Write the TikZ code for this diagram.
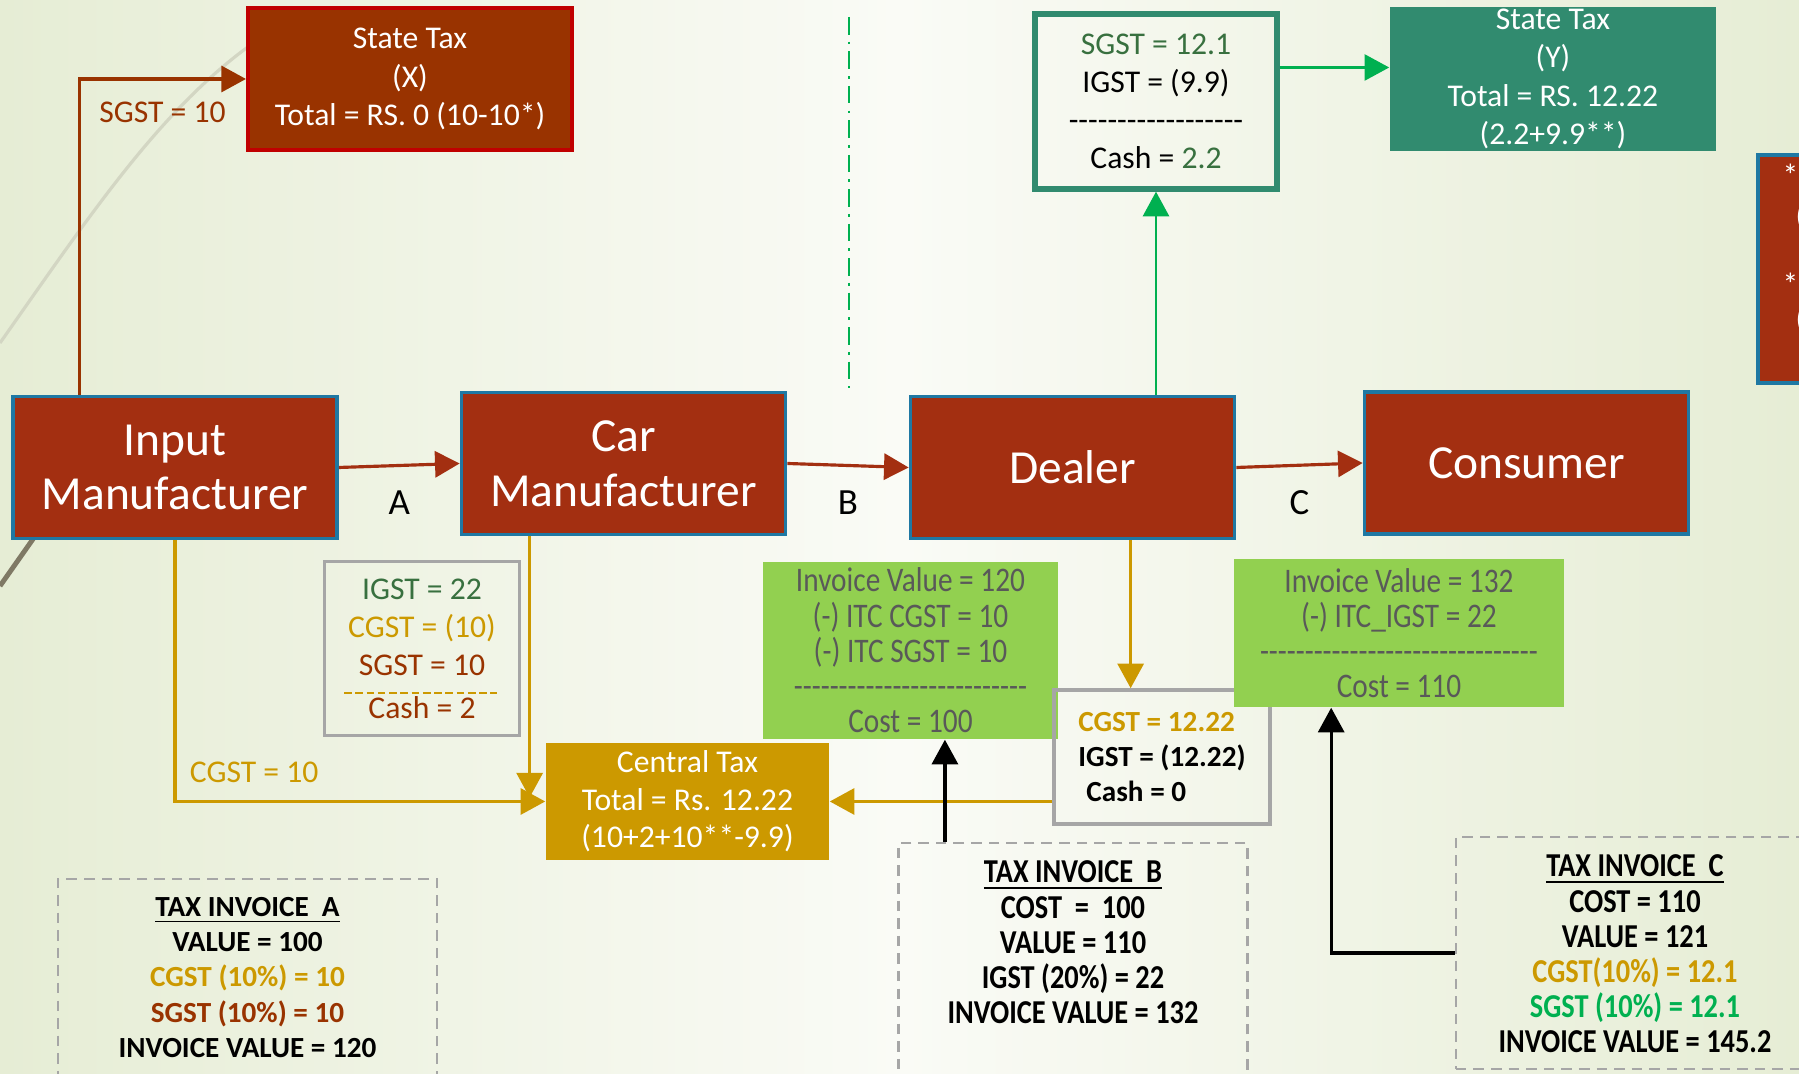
\documentclass[tikz,border=0pt]{standalone}
\usepackage{fontspec}
\setmainfont{Carlito}
\newfontfamily\narrowfont{Carlito}[FakeStretch=0.85]
\usepackage{tikz}
\usetikzlibrary{arrows.meta,positioning,calc}
\definecolor{gstred}{HTML}{A32F11}
\definecolor{gstbrown}{HTML}{993300}
\definecolor{gstcrimson}{HTML}{C00000}
\definecolor{gstblue}{HTML}{1F78A3}
\definecolor{gstteal}{HTML}{318B6F}
\definecolor{gstgold}{HTML}{CC9900}
\definecolor{gstgreen}{HTML}{00B050}
\definecolor{gstdkgreen}{HTML}{38703F}
\definecolor{gstlime}{HTML}{92D050}
\definecolor{gsttext}{HTML}{595959}
\definecolor{gstgrey}{HTML}{A6A6A6}
\definecolor{bgside}{HTML}{E6EDD5}
\definecolor{bgmid}{HTML}{FAFBF6}
\definecolor{bgarcl}{HTML}{D3D6C3}
\definecolor{bgarcd}{HTML}{7F7965}
\newcommand{\fsz}[2]{\fontsize{#1}{#2}\selectfont}
\newcommand{\hyph}[1]{\foreach \k in {1,...,#1}{-\kern0pt}}
\tikzset{
  party/.style    = {draw=gstblue, fill=gstred, line width=1pt, text=white,
                     align=center, inner sep=0pt, minimum width=3.24cm,
                     minimum height=1.42cm, font=\fsz{13.5}{15.6}},
  taxbox/.style   = {align=center, inner sep=0pt, text=white,
                     font=\fsz{9}{10.9}},
  sheet/.style    = {draw=gstgrey, line width=1pt, align=center, inner sep=0pt,
                     font=\fsz{9}{10.8}},
  itcbox/.style   = {fill=gstlime, text=gsttext, align=center, inner sep=0pt,
                     font=\narrowfont\fsz{9.8}{10}},
  invoice/.style  = {draw=gstgrey, dashed, dash pattern=on 3pt off 2pt,
                     line width=0.7pt, inner sep=0pt},
  invtxt/.style   = {align=center, inner sep=0pt, font=\bfseries\fsz{8.3}{10}},
  %
  flow/.style     = {-{Triangle[length=7pt,width=7.4pt]}, line width=0.9pt},
  redflow/.style  = {flow, draw=gstred},
  sgstflow/.style = {flow, draw=gstbrown},
  goldflow/.style = {flow, draw=gstgold},
  grnflow/.style  = {flow, draw=gstgreen, line width=0.7pt},
  blkflow/.style  = {flow, draw=black},
  %
  lbl/.style      = {inner sep=0pt, font=\fsz{9}{10.8}},
  abc/.style      = {inner sep=0pt, font=\fsz{10.5}{12}},
}
\begin{document}
\begin{tikzpicture}[x=0.01cm, y=-0.01cm]

  \useasboundingbox (0,0) rectangle (1799,1074);
  \clip (0,0) rectangle (1799,1074);

  % ---------- slide background ------------------------------------------
  \fill[left color=bgside, right color=bgside, middle color=bgmid]
    (0,0) rectangle (1799,1074);
  \draw[bgarcl, line width=0.9pt] (0,343) .. controls (90,215) and (160,110) .. (252,44);
  \draw[bgarcd, line width=1.4pt] (0,586) -- (45,522);
  \draw[gstgreen, line width=0.7pt, dash pattern=on 5pt off 2pt on 0.8pt off 2pt]
    (849,17) -- (849,388);

  % ---------- supply chain (row y = 465) --------------------------------
  \node[party] (inp) at (175,467.5)  {Input\\Manufacturer};
  \node[party] (car) at (623.5,463.5) {Car\\Manufacturer};
  \node[party] (dlr) at (1072.5,467.5) {Dealer};
  \node[party] (con) at (1526.5,463)  {Consumer};

  % ---------- state and central tax -------------------------------------
  \node[taxbox, draw=gstcrimson, fill=gstbrown, line width=1.1pt,
        minimum width=3.24cm, minimum height=1.42cm] (stx) at (410,79)
    {State Tax\\(X)\\Total = RS. 0 (10-10*)};
  \node[taxbox, fill=gstteal, minimum width=3.26cm, minimum height=1.44cm]
    (sty) at (1553,79)
    {State Tax\\(Y)\\Total = RS. 12.22\\(2.2+9.9**)};
  \node[taxbox, fill=gstgold, minimum width=2.83cm, minimum height=1.17cm,
        font=\fsz{9}{10.7}] (ctax) at (687.5,801.5)
    {Central Tax\\Total = Rs. 12.22\\(10+2+10**-9.9)};

  % ---------- set-off sheets --------------------------------------------
  \node[sheet, draw=gstteal, line width=1.5pt, minimum width=2.42cm,
        minimum height=1.75cm] (sgst) at (1156,101.5)
    {{\color{gstdkgreen}SGST = 12.1}\\IGST = (9.9)\\\hyph{18}\\
     Cash = {\color{gstdkgreen}2.2}};
  \node[sheet, minimum width=1.95cm, minimum height=1.74cm] (igst) at (422,648.5)
    {{\color{gstdkgreen}IGST = 22}\\{\color{gstgold}CGST = (10)}\\
     {\color{gstbrown}SGST = 10}\\[1.4pt]{\color{gstbrown}Cash = 2}};
  \draw[gstgold, line width=0.6pt, dash pattern=on 2.2pt off 1pt]
    ($(igst.center)+(-78,44.5)$) -- ($(igst.center)+(75,44.5)$);

  \node[itcbox, minimum width=2.94cm, minimum height=1.77cm] (itcb) at (910.5,650.5)
    {Invoice Value = 120\\(-) ITC CGST = 10\\(-) ITC SGST = 10\\\hyph{26}\\
     Cost = 100};
  \node[sheet, align=left, minimum width=2.16cm, minimum height=1.34cm,
        font=\bfseries\fsz{8.3}{10}] (cgst) at (1162,757)
    {{\color{gstgold}CGST = 12.22}\\IGST = (12.22)\\\hspace*{2.3pt}Cash = 0};
  \node[itcbox, minimum width=3.30cm, minimum height=1.48cm] (itcc) at (1399,633)
    {Invoice Value = 132\\(-) ITC\_IGST = 22\\\hyph{31}\\Cost = 110};

  % ---------- tax invoices ----------------------------------------------
  \node[invoice, minimum width=3.79cm, minimum height=2.10cm] (inva) at (247.5,984) {};
  \node[invoice, minimum width=3.485cm, minimum height=2.47cm] (invb) at (1073,966.5) {};
  \node[invoice, minimum width=3.58cm, minimum height=2.32cm] (invc) at (1635,953) {};

  \node[invtxt, below=5.4pt of inva.north] (txa)
    {\underline{TAX INVOICE\ \ A}\\VALUE = 100\\
     {\color{gstgold}CGST (10\%) = 10}\\{\color{gstbrown}SGST (10\%) = 10}\\
     INVOICE VALUE = 120};
  \node[invtxt, font=\narrowfont\bfseries\fsz{9.5}{10}, below=5.3pt of invb.north] (txb)
    {\underline{TAX INVOICE\ \ B}\\COST\ \ =\ \ 100\\VALUE = 110\\
     IGST (20\%) = 22\\INVOICE VALUE = 132};
  \node[invtxt, font=\narrowfont\bfseries\fsz{9.5}{10}, below=5.3pt of invc.north] (txc)
    {\underline{TAX INVOICE\ \ C}\\COST = 110\\VALUE = 121\\
     {\color{gstgold}CGST(10\%) = 12.1}\\{\color{gstgreen}SGST (10\%) = 12.1}\\
     INVOICE VALUE = 145.2};

  % ---------- footnote box, cut by the slide edge -----------------------
  \node[party, anchor=north west, minimum width=0.8cm, minimum height=2.28cm]
    (fnote) at (1756,153) {};
  \node[lbl, text=white, anchor=west] (fna) at (1782,175) {*};
  \node[lbl, text=white, anchor=west] (fnb) at (1795,217) {(};
  \node[lbl, text=white, anchor=west] (fnc) at (1782,284) {**};
  \node[lbl, text=white, anchor=west] (fnd) at (1795,320) {(};

  % ---------- connectors: sales A, B, C ---------------------------------
  \draw[redflow] (inp.east) -- node[abc, below=6.8pt] {A} (car.west);
  \draw[redflow] (car.east) -- node[abc, below=6.8pt] {B} (dlr.west);
  \draw[redflow] (dlr.east) -- node[abc, below=6.8pt] {C} (con.west);

  % ---------- connectors: tax paid --------------------------------------
  \coordinate (inpup) at ($(inp.north west)+(68,0)$);
  \draw[sgstflow] (inpup) |- node[lbl, text=gstbrown, below=6pt, pos=0.75]
      {SGST = 10} (stx.west);
  \draw[goldflow] (inp.south) |- node[lbl, text=gstgold, above=4.8pt, pos=0.607]
      {CGST = 10} (ctax.west);
  \coordinate (cardown) at ($(car.south west)+(70,0)$);
  \draw[goldflow] (cardown) -- ($(cardown |- ctax.west)+(0,-4)$);
  \coordinate (dlrdown) at ($(dlr.south west)+(222,0)$);
  \draw[goldflow] (dlrdown) -- (dlrdown |- cgst.north);
  \draw[goldflow] (cgst.west |- ctax.east) -- (ctax.east);

  \draw[grnflow] (dlr.north -| sgst.south) -- (sgst.south);
  \coordinate (sgstout) at ($(sgst.east)+(0,-34)$);
  \draw[grnflow] (sgstout) -- (sgstout -| sty.west);

  % ---------- connectors: invoices -> cost ------------------------------
  \coordinate (invbup) at ($(invb.north west)+(47.5,0)$);
  \draw[blkflow] (invbup) -- (invbup |- itcb.south);
  \draw[blkflow] (invc.west) -| ($(itcc.south west)+(98,0)$);

\end{tikzpicture}
\end{document}
